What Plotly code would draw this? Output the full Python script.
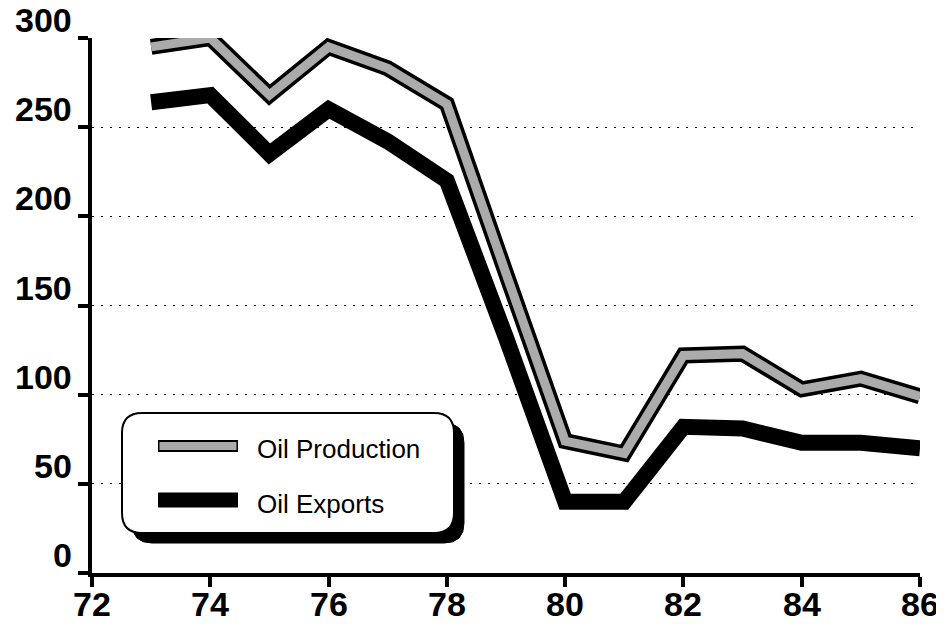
import plotly.graph_objects as go

years = [73, 74, 75, 76, 77, 78, 79, 80, 81, 82, 83, 84, 85, 86]
oil_production = [295, 300, 268, 295, 283, 263, 168, 74, 67, 122, 123, 103, 109, 99]
oil_exports = [264, 268, 235, 260, 242, 220, 132, 40, 40, 82, 81, 73, 73, 70]
x_ticks = [72, 74, 76, 78, 80, 82, 84, 86]
y_ticks = [0, 50, 100, 150, 200, 250, 300]
legend_names = ["Oil Production", "Oil Exports"]

# The page places the figure 8px from the top-left corner of the window.
OFF = 8
W, H = 944 - OFF, 624 - OFF
# plot area in window pixels: x 92..920, y 38..573
L = 92 - OFF
T = 38 - OFF
R = W - (920 - OFF)
B = H - (573 - OFF)
PW, PH = W - L - R, H - T - B

def px(x):  # window pixel -> paper
    return (x - OFF - L) / PW

def py(y):
    return (H - B - (y - OFF)) / PH

GRAY = "#ababab"
FONT = "Liberation Sans, Arial, sans-serif"

fig = go.Figure()
fig.add_trace(go.Scatter(x=years, y=oil_production, mode="lines",
                         line=dict(color="black", width=16), showlegend=False, hoverinfo="skip"))
fig.add_trace(go.Scatter(x=years, y=oil_production, mode="lines",
                         line=dict(color=GRAY, width=9), showlegend=False, name=legend_names[0]))
fig.add_trace(go.Scatter(x=years, y=oil_exports, mode="lines",
                         line=dict(color="black", width=16), showlegend=False, name=legend_names[1]))

def rrect(x0, y0, x1, y1, r):
    rx, ry = r / PW, r / PH
    a0, a1 = px(x0), px(x1)
    b0, b1 = py(y1), py(y0)
    return (f"M {a0+rx},{b1} L {a1-rx},{b1} Q {a1},{b1} {a1},{b1-ry} "
            f"L {a1},{b0+ry} Q {a1},{b0} {a1-rx},{b0} "
            f"L {a0+rx},{b0} Q {a0},{b0} {a0},{b0+ry} "
            f"L {a0},{b1-ry} Q {a0},{b1} {a0+rx},{b1} Z")

shapes = [
    dict(type="path", xref="paper", yref="paper", path=rrect(132, 423, 464, 543, 20),
         fillcolor="black", line=dict(color="black", width=1), layer="above"),
    dict(type="path", xref="paper", yref="paper", path=rrect(122, 413, 454, 533, 20),
         fillcolor="white", line=dict(color="black", width=2), layer="above"),
    dict(type="line", xref="paper", yref="paper", x0=px(158), x1=px(238), y0=py(446), y1=py(446),
         line=dict(color="black", width=12), layer="above"),
    dict(type="line", xref="paper", yref="paper", x0=px(159.5), x1=px(236.5), y0=py(446), y1=py(446),
         line=dict(color=GRAY, width=8), layer="above"),
    dict(type="line", xref="paper", yref="paper", x0=px(158), x1=px(238), y0=py(500), y1=py(500),
         line=dict(color="black", width=15), layer="above"),
]

annotations = [
    dict(text=legend_names[0], xref="paper", yref="paper", x=px(255), y=py(449), xanchor="left", yanchor="middle",
         showarrow=False, font=dict(family=FONT, size=26, color="black")),
    dict(text=legend_names[1], xref="paper", yref="paper", x=px(255), y=py(504), xanchor="left", yanchor="middle",
         showarrow=False, font=dict(family=FONT, size=26, color="black")),
]
# y tick labels sit just above their ticks
for v in y_ticks:
    annotations.append(dict(text=str(v), xref="paper", yref="y", x=0, y=v, xanchor="right", yanchor="middle",
                            xshift=-18, yshift=18, showarrow=False,
                            font=dict(family=FONT, size=34, color="black", weight="bold")))
# x tick labels
for v in x_ticks:
    annotations.append(dict(text=str(v), xref="x", yref="paper", x=v, y=0, xanchor="center", yanchor="top",
                            yshift=-10, showarrow=False,
                            font=dict(family=FONT, size=34, color="black", weight="bold")))

fig.update_layout(
    width=W, height=H,
    margin=dict(l=L, r=R, t=T, b=B, autoexpand=False),
    paper_bgcolor="white", plot_bgcolor="white",
    showlegend=False,
    shapes=shapes, annotations=annotations,
    xaxis=dict(range=[72, 86], tickmode="array", tickvals=x_ticks, showticklabels=False,
               automargin=False,
               showgrid=False, zeroline=False, showline=True, linecolor="black", linewidth=4,
               ticks="outside", ticklen=10, tickwidth=4, tickcolor="black"),
    yaxis=dict(range=[0, 300], tickmode="array", tickvals=y_ticks, showticklabels=False,
               automargin=False,
               showgrid=True, gridcolor="black", gridwidth=1.2, griddash="2px,7px",
               zeroline=False, showline=True, linecolor="black", linewidth=4,
               ticks="outside", ticklen=10, tickwidth=4, tickcolor="black"),
)

fig.write_html("out.html")
